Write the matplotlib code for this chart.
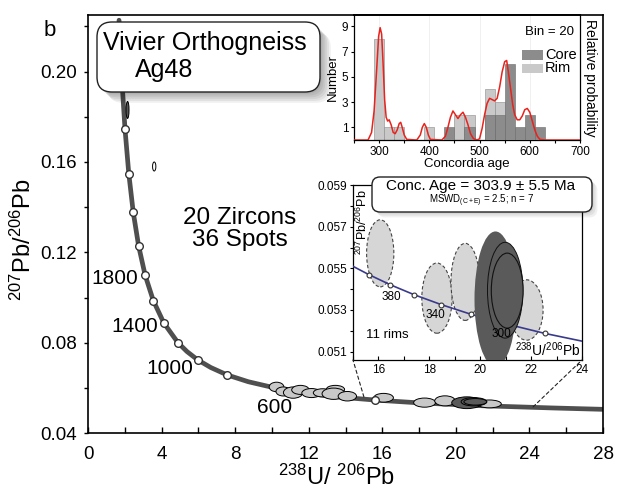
import numpy as np
import matplotlib
matplotlib.use("Agg")
import matplotlib.pyplot as plt
from matplotlib.patches import Ellipse, FancyBboxPatch, Rectangle, ConnectionPatch

plt.rcParams['font.family'] = ['Liberation Sans', 'DejaVu Sans']
plt.rcParams['mathtext.fontset'] = 'custom'
plt.rcParams['mathtext.rm'] = 'Liberation Sans'
plt.rcParams['mathtext.it'] = 'Liberation Sans:italic'

## concordia curve (238U/206Pb, 207Pb/206Pb)
conc_x = [1.687, 1.838, 2.013, 2.217, 2.459, 2.749, 3.104, 3.550, 4.122, 4.888, 5.375, 5.959,
          6.674, 7.570, 8.718, 10.252, 11.228, 12.399, 13.831, 15.621, 17.924, 20.992, 25.290, 28.0]
conc_y = [0.2227, 0.1968, 0.1744, 0.1549, 0.1378, 0.1230, 0.1100, 0.0987, 0.0888, 0.0801, 0.0762, 0.0725,
          0.0691, 0.0658, 0.0628, 0.0599, 0.0585, 0.0572, 0.0559, 0.0547, 0.0535, 0.0523, 0.0512, 0.0506]
## age marks on the curve (2600 ... 800 Ma, 400 Ma)
mark_x = [2.013, 2.217, 2.459, 2.749, 3.104, 3.550, 4.122, 4.888, 5.959, 7.570, 15.621]
mark_y = [0.1744, 0.1549, 0.1378, 0.1230, 0.1100, 0.0987, 0.0888, 0.0801, 0.0725, 0.0658, 0.0547]
age_labels = ['1800', '1400', '1000', '600']

## zoomed concordia segment (420 ... 260 Ma)
ins_x = [14.854, 15.621, 16.469, 17.411, 18.465, 19.649, 20.992, 22.527, 24.297]
ins_y = [0.05519, 0.05470, 0.05421, 0.05373, 0.05326, 0.05279, 0.05234, 0.05188, 0.05143]
ins_labels = ['380', '340', '300']

## rim ellipses (centre x, centre y, width, height)
rim_x = [16.07, 18.30, 19.41, 21.82]
rim_y = [0.05572, 0.05357, 0.05435, 0.05300]
rim_w = [1.07, 1.19, 1.12, 1.30]
rim_h = [0.00322, 0.00337, 0.00370, 0.00290]
## dark (concordia age group) ellipses
dark_x = [20.60, 20.98, 21.06]
dark_y = [0.05352, 0.05395, 0.05393]
dark_w = [1.65, 1.39, 1.25]
dark_h = [0.0065, 0.0046, 0.0036]
## core ellipses seen only on the main panel
core_x = [10.25, 10.62, 11.15, 11.55, 12.15, 12.75, 13.45, 13.35, 14.10]
core_y = [0.0605, 0.0585, 0.0580, 0.0592, 0.0578, 0.0579, 0.0594, 0.0575, 0.0564]
core_w = [0.80, 0.80, 1.05, 0.95, 1.05, 1.00, 1.00, 1.25, 1.00]
core_h = [0.0042, 0.0040, 0.0050, 0.0040, 0.0040, 0.0036, 0.0036, 0.0050, 0.0042]
## old grains near the top of the curve
old_x = [2.15, 3.60]
old_y = [0.1830, 0.1580]
old_w = [0.16, 0.18]
old_h = [0.0075, 0.0040]

## histogram (bin = 20 Ma)
rim_bins = [290, 310, 330, 390, 450, 470, 510, 530]
rim_counts = [8, 1, 1, 1, 2, 2, 4, 3]
core_bins = [430, 470, 510, 530, 550, 570, 590, 610]
core_counts = [1, 1, 2, 2, 6, 1, 2, 1]
## relative probability curve (in count units)
prob_age = [250, 278, 285, 290, 295, 299, 302, 305, 308, 311, 314, 317, 320, 324, 328, 332, 336, 340,
            343, 346, 350, 355, 375, 382, 386, 390, 394, 398, 402, 425, 432, 437, 442, 447, 452, 457,
            462, 467, 472, 477, 482, 488, 495, 500, 505, 510, 515, 520, 525, 530, 535, 540, 545, 550,
            554, 558, 562, 566, 570, 575, 580, 585, 590, 595, 600, 605, 610, 615, 620, 630, 700]
prob_val = [0, 0, 0.6, 2.3, 5.5, 8.2, 8.9, 8.4, 6.0, 3.2, 1.8, 1.5, 1.6, 1.2, 0.6, 0.5, 0.8, 1.3,
            1.4, 1.0, 0.4, 0.05, 0, 0.4, 1.0, 1.3, 1.0, 0.4, 0.05, 0, 0.3, 1.0, 1.8, 2.3, 2.0, 1.7,
            2.0, 2.2, 1.8, 1.2, 0.5, 0.1, 0, 0.1, 0.9, 2.0, 2.9, 3.3, 3.2, 3.1, 3.3, 4.2, 5.4, 6.2,
            6.3, 5.2, 4.0, 2.8, 2.0, 1.6, 1.6, 1.9, 2.4, 2.5, 2.2, 1.5, 0.8, 0.3, 0.05, 0, 0]

W, H = 617, 496
def px_rect(l, t, r, b):
    return [l / W, 1 - b / H, (r - l) / W, (b - t) / H]

def fx(x):
    return x / W
def fy(y):
    return 1 - y / H

fig = plt.figure(figsize=(W / 100, H / 100), dpi=100)

## ---------------- main panel ----------------
ax = fig.add_axes(px_rect(88, 15, 603, 433.3))
ax.set_xlim(0, 28)
ax.set_ylim(0.04, 0.225)
ax.plot(conc_x, conc_y, c='#4f4f4f', lw=3.4, solid_capstyle='round', zorder=2)
for x, y, w, h in zip(old_x, old_y, old_w, old_h):
    fc = '#555555' if h > 0.005 else 'white'
    ax.add_patch(Ellipse((x, y), w, h, fc=fc, ec='k', lw=0.7, zorder=3))
for x, y, w, h in zip(core_x, core_y, core_w, core_h):
    ax.add_patch(Ellipse((x, y), w, h, fc='#c8c8c8', ec='k', lw=0.7, zorder=3))
for x, y, w, h in zip(rim_x, rim_y, rim_w, rim_h):
    ax.add_patch(Ellipse((x, y), w, h * 1.2, fc='#c8c8c8', ec='k', lw=0.7, zorder=3))
for x, y, w, h in zip(dark_x, dark_y, dark_w, dark_h):
    ax.add_patch(Ellipse((x, y), w, h * 0.8, fc='#5a5a5a', ec='k', lw=0.7, zorder=3))
ax.plot(mark_x, mark_y, 'o', ms=5.5, mfc='white', mec='#333333', mew=1.0, zorder=4)

lab_pos = [(2.70, 0.1085, 'right'), (3.82, 0.0871, 'right'), (5.70, 0.0688, 'right'), (10.16, 0.0516, 'center')]
for (x, y, ha), s in zip(lab_pos, age_labels):
    ax.text(x, y, s, ha=ha, va='center', fontsize=15, zorder=5)

ax.set_xticks(np.arange(0, 29, 4))
ax.set_xticks(np.arange(0, 29, 2), minor=True)
ax.set_yticks(np.arange(0.04, 0.201, 0.04))
ax.set_yticks(np.arange(0.04, 0.225, 0.02), minor=True)
ax.set_yticklabels(['%.2f' % v for v in np.arange(0.04, 0.201, 0.04)])
ax.tick_params(axis='x', which='both', direction='in', length=4, width=1, labelsize=13.5, pad=9)
ax.tick_params(axis='y', which='both', direction='out', length=3, width=1, labelsize=13.5, pad=5)
for sp in ax.spines.values():
    sp.set_linewidth(1.2)
ax.set_xlabel('$^{238}$U/ $^{206}$Pb', fontsize=17)
ax.xaxis.set_label_coords(0.482, -0.076)
ax.set_ylabel('$^{207}$Pb/$^{206}$Pb', fontsize=17)
ax.yaxis.set_label_coords(-0.101, 0.462)

fig.text(fx(50), fy(31), 'b', fontsize=16, ha='center', va='center')
fig.text(fx(240), fy(229), '20 Zircons\n36 Spots', fontsize=17.5, ha='center', va='center',
         multialignment='center', linespacing=1.05)

## ---------------- histogram inset ----------------
axh = fig.add_axes(px_rect(354, 15, 580, 140))
axh.set_xlim(250, 700)
axh.set_ylim(0, 9.9)
axh.grid(axis='x', color='#eeeeee', lw=0.6)
axh.set_axisbelow(True)
axh.bar(rim_bins, rim_counts, width=20, align='edge', color='#c9c9c9', edgecolor='#8a8a8a', lw=0.4, zorder=2)
axh.bar(core_bins, core_counts, width=20, align='edge', color='#8c8c8c', edgecolor='#6a6a6a', lw=0.4, zorder=3)
axh.plot(prob_age, prob_val, c='#e8221c', lw=1.1, zorder=4)
axh.set_xticks([300, 400, 500, 600, 700])
axh.set_xticks(np.arange(250, 701, 50), minor=True)
axh.set_yticks([1, 3, 5, 7, 9])
axh.tick_params(axis='both', which='both', direction='out', length=2.5, width=0.8, labelsize=8.5, pad=1.5)
axh.set_xlabel('Concordia age', fontsize=9.5, labelpad=0)
axh.set_ylabel('Number', fontsize=9.5, labelpad=2)
for sp in axh.spines.values():
    sp.set_linewidth(0.9)
axh.spines['top'].set_linewidth(1.4)
axh.text(0.867, 0.864, 'Bin = 20', transform=axh.transAxes, ha='center', va='center', fontsize=9.5)
axh.add_patch(Rectangle((0.743, 0.64), 0.093, 0.08, transform=axh.transAxes, fc='#8c8c8c', ec='none', zorder=5))
axh.add_patch(Rectangle((0.743, 0.536), 0.093, 0.072, transform=axh.transAxes, fc='#c9c9c9', ec='none', zorder=5))
axh.text(0.845, 0.68, 'Core', transform=axh.transAxes, ha='left', va='center', fontsize=10.5, zorder=6)
axh.text(0.845, 0.572, 'Rim', transform=axh.transAxes, ha='left', va='center', fontsize=10.5, zorder=6)
fig.text(fx(590), fy(78), 'Relative probability', rotation=-90, ha='center', va='center', fontsize=10)

## ---------------- zoomed concordia inset ----------------
axi = fig.add_axes(px_rect(353, 185, 582, 360))
axi.set_xlim(15, 24)
axi.set_ylim(0.0506, 0.059)
for x, y, w, h in zip(rim_x, rim_y, rim_w, rim_h):
    axi.add_patch(Ellipse((x, y), w, h, fc='#d6d6d6', ec='#444444', lw=0.8, ls=(0, (3, 2)), zorder=2))
axi.plot(ins_x, ins_y, c='#3a3a8c', lw=1.2, zorder=3)
axi.plot(ins_x[1:8], ins_y[1:8], 'o', ms=3.5, mfc='white', mec='#333333', mew=0.8, zorder=3)
axi.add_patch(Ellipse((dark_x[0], dark_y[0]), dark_w[0], dark_h[0], fc='#5a5a5a', ec='none', zorder=4))
axi.add_patch(Ellipse((dark_x[1], dark_y[1]), dark_w[1], dark_h[1], fc='#5a5a5a', ec='#111111', lw=0.7, zorder=4))
axi.add_patch(Ellipse((dark_x[2], dark_y[2]), dark_w[2], dark_h[2], fc='#5a5a5a', ec='#111111', lw=0.8, zorder=4))
for (x, y), s in zip([(16.49, 0.05363), (18.23, 0.05275), (20.83, 0.05187)], ins_labels):
    axi.text(x, y, s, ha='center', va='center', fontsize=8.5, zorder=6)
axi.text(16.36, 0.05179, '11 rims', ha='center', va='center', fontsize=9.5, zorder=6)
axi.text(0.04, 0.79, '$^{207}$Pb/$^{206}$Pb', transform=axi.transAxes, rotation=90,
         ha='center', va='center', fontsize=9, zorder=6)
axi.text(0.85, 0.057, '$^{238}$U/$^{206}$Pb', transform=axi.transAxes,
         ha='center', va='center', fontsize=10, zorder=6)
axi.set_xticks([16, 18, 20, 22, 24])
axi.set_xticks(np.arange(15, 24.1, 1), minor=True)
axi.set_yticks([0.051, 0.053, 0.055, 0.057, 0.059])
axi.set_yticks(np.arange(0.051, 0.0591, 0.001), minor=True)
axi.set_yticklabels(['0.051', '0.053', '0.055', '0.057', '0.059'])
axi.tick_params(axis='x', which='both', direction='in', length=3, width=0.8, labelsize=8.5, pad=3)
axi.tick_params(axis='y', which='both', direction='out', length=2.5, width=0.8, labelsize=8.5, pad=1.5)
for sp in axi.spines.values():
    sp.set_linewidth(0.9)

## dashed lines from the zoomed window to the main curve
for xa, ya, xb in [(15.0, 0.0561, 0), (24.2, 0.0517, 1)]:
    con = ConnectionPatch(xyA=(xa, ya), coordsA=ax.transData, xyB=(xb, 0), coordsB=axi.transAxes,
                          ls=(0, (3, 2.5)), lw=0.8, color='#222222')
    fig.add_artist(con)

## ---------------- rounded labels with shadow ----------------
def shadow_box(l, t, r, b, rad, shade):
    x0, y0 = l / 100, (H - b) / 100
    w, h = (r - l) / 100, (b - t) / 100
    for k in range(1, shade + 1):
        off = k * 0.018
        fig.add_artist(FancyBboxPatch((x0 + off, y0 - off), w, h, boxstyle='round,pad=0,rounding_size=%g' % rad,
                                      transform=fig.dpi_scale_trans, fc='black', ec='none', alpha=0.06, zorder=8))
    fig.add_artist(FancyBboxPatch((x0, y0), w, h, boxstyle='round,pad=0,rounding_size=%g' % rad,
                                  transform=fig.dpi_scale_trans, fc='white', ec='#222222', lw=1.0, zorder=9))

shadow_box(97, 22, 320, 92, 0.15, 6)
fig.text(fx(103), fy(43), 'Vivier Orthogneiss', fontsize=18, ha='left', va='center', zorder=10)
fig.text(fx(135), fy(70), 'Ag48', fontsize=18, ha='left', va='center', zorder=10)

shadow_box(372, 177, 592, 212, 0.08, 3)
fig.text(fx(481), fy(186), 'Conc. Age = 303.9 \u00b1 5.5 Ma', fontsize=11, ha='center', va='center', zorder=10)
fig.text(fx(482), fy(201), 'MSWD$_{\\mathrm{(C+E)}}$ = 2.5; n = 7', fontsize=7, ha='center', va='center', zorder=10)

fig.savefig('out.png', dpi=100)
